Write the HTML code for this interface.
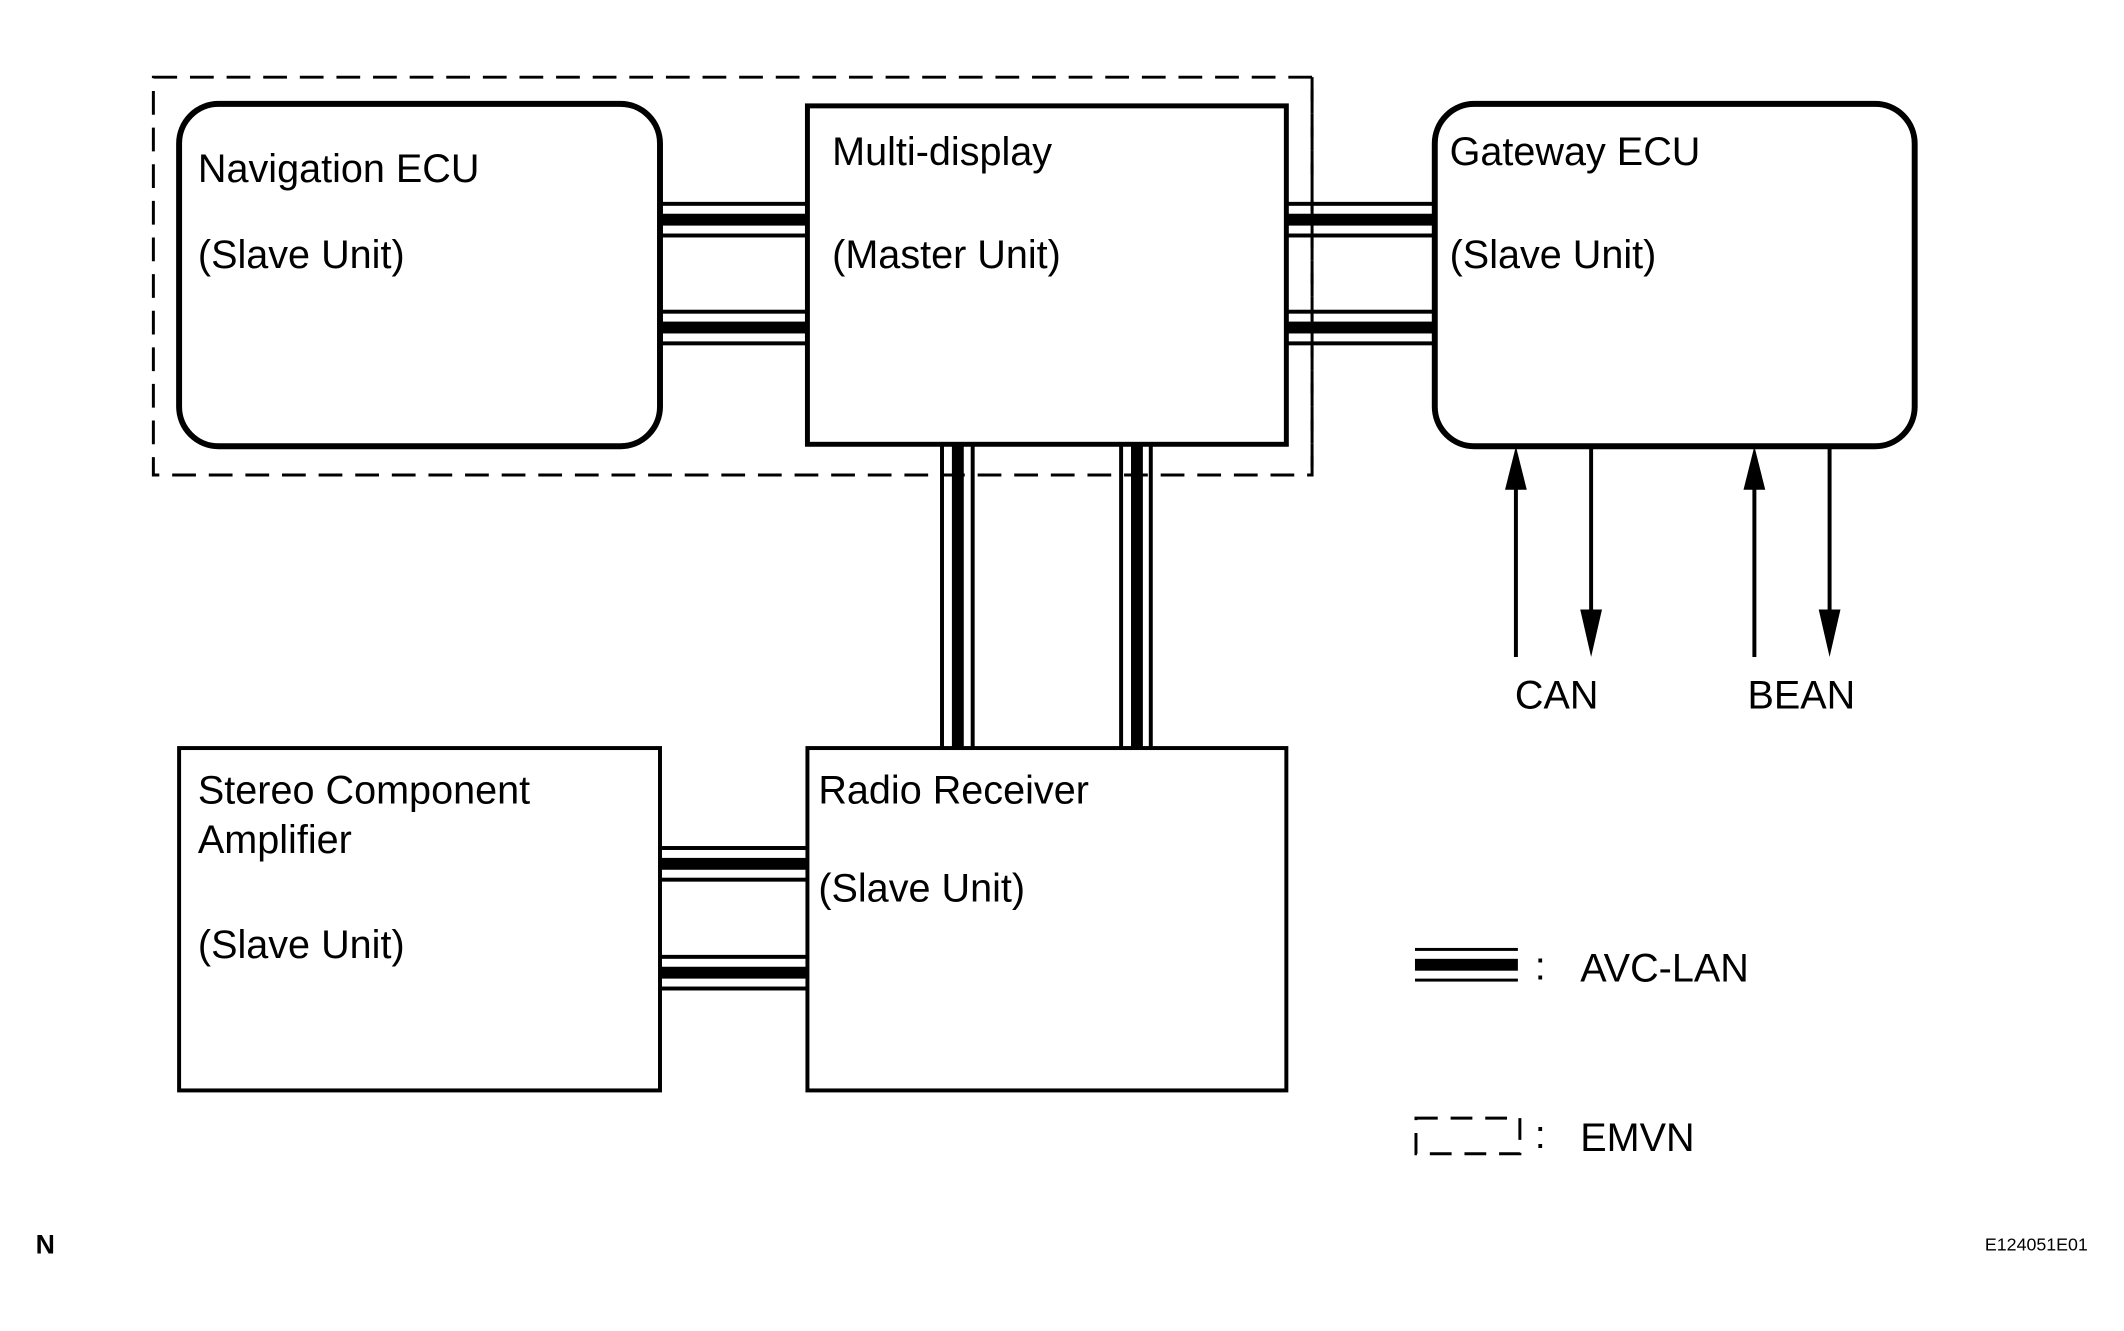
<!DOCTYPE html>
<html><head><meta charset="utf-8"><style>
html,body{margin:0;padding:0;background:#fff}
svg{display:block}
text{font-family:"Liberation Sans",Arial,sans-serif;font-size:40px;fill:#000}
</style></head><body>
<svg width="2124" height="1331" viewBox="0 0 2124 1331" xmlns="http://www.w3.org/2000/svg">
<defs>
<g id="hc">
 <rect x="0" y="-18" width="1" height="4"/>
 <rect x="0" y="-6" width="1" height="12"/>
 <rect x="0" y="14" width="1" height="4"/>
</g>
</defs>
<g transform="scale(0.9895)">
<rect x="155" y="78" width="1171" height="402" fill="none" stroke="#000" stroke-width="3" stroke-dasharray="24,13"/>

<g fill="#000">
 <use href="#hc" transform="translate(667,222) scale(149,1)"/>
 <use href="#hc" transform="translate(667,331) scale(149,1)"/>
 <use href="#hc" transform="translate(1300,222) scale(150,1)"/>
 <use href="#hc" transform="translate(1300,331) scale(150,1)"/>
 <use href="#hc" transform="translate(667,873) scale(149,1)"/>
 <use href="#hc" transform="translate(667,983) scale(149,1)"/>
 <rect x="950" y="449" width="4" height="307"/>
 <rect x="962" y="449" width="12" height="307"/>
 <rect x="981" y="449" width="4" height="307"/>
 <rect x="1131" y="449" width="4" height="307"/>
 <rect x="1143" y="449" width="12" height="307"/>
 <rect x="1161" y="449" width="4" height="307"/>
</g>
<line x1="1326" y1="78" x2="1326" y2="480" stroke="#000" stroke-width="3" stroke-dasharray="24,13"/>

<rect x="181" y="105" width="486" height="346" rx="40" fill="#fff" stroke="#000" stroke-width="6"/>
<rect x="816" y="107" width="484" height="342" fill="#fff" stroke="#000" stroke-width="5"/>
<rect x="1450" y="105" width="485" height="346" rx="40" fill="#fff" stroke="#000" stroke-width="6"/>
<rect x="181" y="756" width="486" height="346" fill="#fff" stroke="#000" stroke-width="4"/>
<rect x="816" y="756" width="484" height="346" fill="#fff" stroke="#000" stroke-width="4"/>

<text x="200" y="184">Navigation ECU</text>
<text x="200" y="271">(Slave Unit)</text>
<text x="841" y="167">Multi-display</text>
<text x="841" y="271">(Master Unit)</text>
<text x="1465" y="167">Gateway ECU</text>
<text x="1465" y="271">(Slave Unit)</text>
<text x="200" y="812">Stereo Component</text>
<text x="200" y="862">Amplifier</text>
<text x="200" y="968">(Slave Unit)</text>
<text x="827" y="812">Radio Receiver</text>
<text x="827" y="911">(Slave Unit)</text>

<g stroke="#000" stroke-width="4">
 <line x1="1532" y1="490" x2="1532" y2="664"/>
 <line x1="1608" y1="452" x2="1608" y2="616"/>
 <line x1="1773" y1="490" x2="1773" y2="664"/>
 <line x1="1849" y1="452" x2="1849" y2="616"/>
</g>
<g fill="#000">
 <polygon points="1532,451 1521,495 1543,495"/>
 <polygon points="1608,664 1597,616 1619,616"/>
 <polygon points="1773,451 1762,495 1784,495"/>
 <polygon points="1849,664 1838,616 1860,616"/>
</g>
<text x="1531" y="716">CAN</text>
<text x="1766" y="716">BEAN</text>

<g fill="#000">
 <rect x="1430" y="958" width="104" height="3"/>
 <rect x="1430" y="969" width="104" height="12"/>
 <rect x="1430" y="989" width="104" height="3"/>
</g>
<text x="1551" y="990">:</text>
<text x="1597" y="992">AVC-LAN</text>
<rect x="1431" y="1130" width="105" height="36" fill="none" stroke="#000" stroke-width="3" stroke-dasharray="22,13"/>
<text x="1551" y="1160">:</text>
<text x="1597" y="1163">EMVN</text>

<text x="36" y="1267" style="font-weight:bold;font-size:27px">N</text>
<text x="2110" y="1264" text-anchor="end" style="font-size:18px">E124051E01</text>
</g>
</svg>
</body></html>
